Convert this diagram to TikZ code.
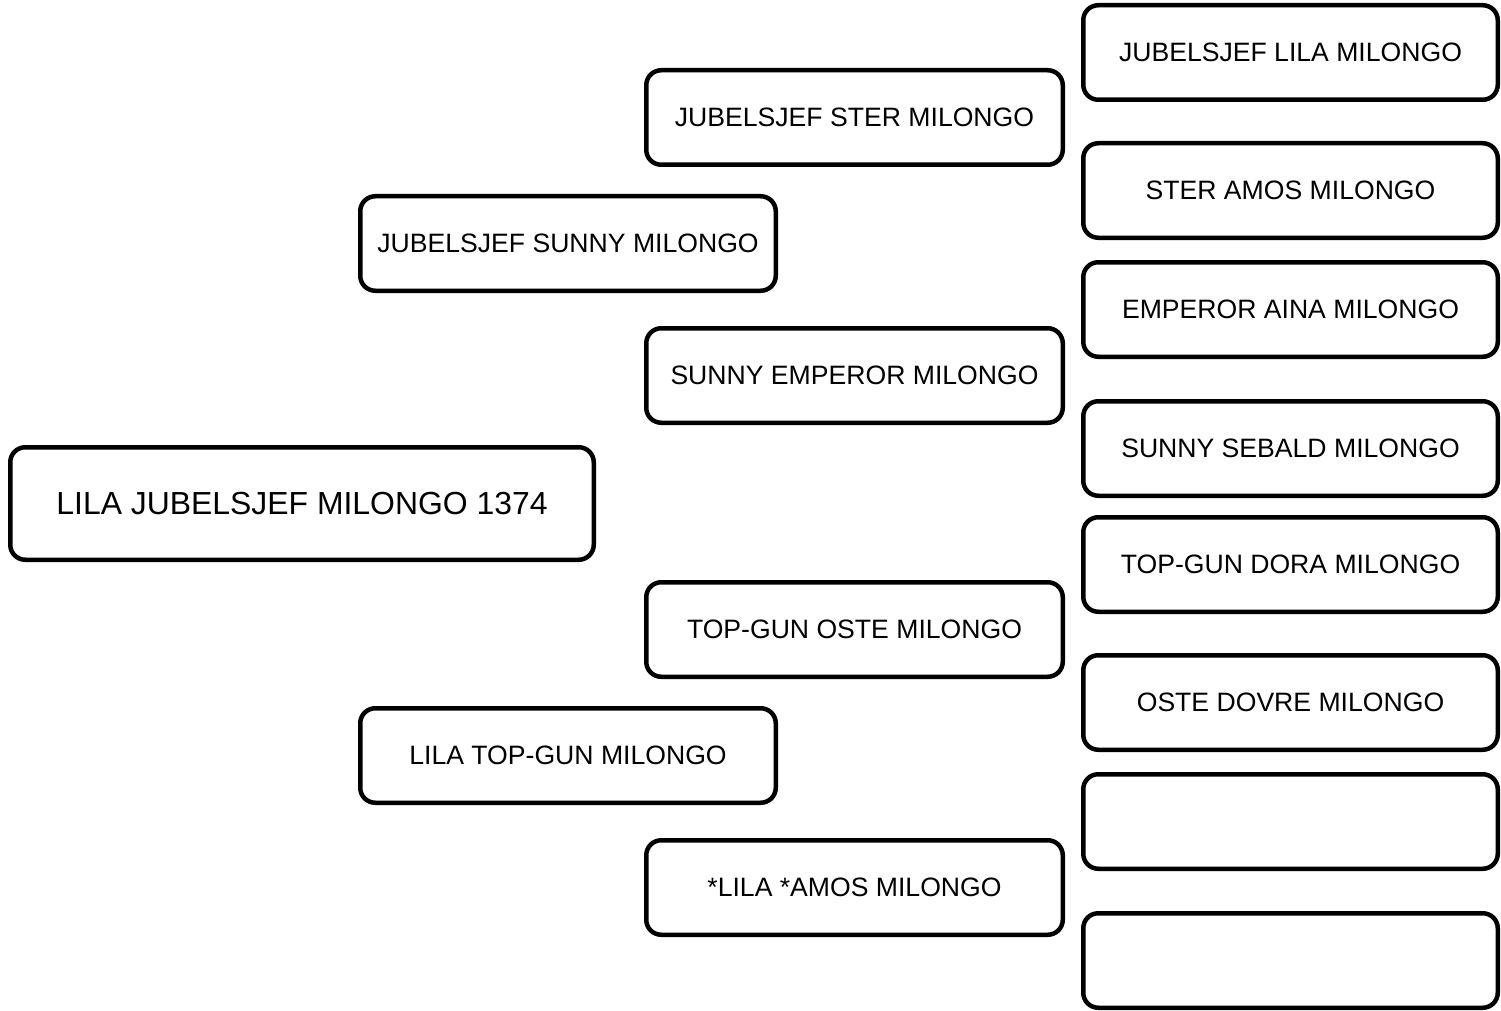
\documentclass[tikz,border=0pt]{standalone}
\usepackage{fontspec}
\setmainfont{Liberation Sans}
\begin{document}
\begin{tikzpicture}[x=1pt,y=-1pt,
  box/.style={draw=black, line width=4.5pt, rounded corners=15pt, fill=white,
    inner sep=0pt, align=center, font=\fontsize{26.6}{30}\selectfont},
  lvlthree/.style={box, minimum width=414.5pt, minimum height=94.5pt},
  lvltwo/.style={box, minimum width=416.5pt, minimum height=94.5pt},
  lvlone/.style={box, minimum width=415.5pt, minimum height=94.5pt},
  rootbox/.style={box, minimum width=583.5pt, minimum height=112.5pt, font=\fontsize{31.9}{36}\selectfont}]
\useasboundingbox (0,0) rectangle (1501,1011);
% root
\node[rootbox] (root) at (302,503.5) {LILA JUBELSJEF MILONGO 1374};
% level 1
\node[lvlone] (f) at (568,243.5) {JUBELSJEF SUNNY MILONGO};
\node[lvlone] (m) at (568,755.5) {LILA TOP-GUN MILONGO};
% level 2
\node[lvltwo] (ff) at (854.5,117.5) {JUBELSJEF STER MILONGO};
\node[lvltwo] (fm) at (854.5,375.5) {SUNNY EMPEROR MILONGO};
\node[lvltwo] (mf) at (854.5,629.5) {TOP-GUN OSTE MILONGO};
\node[lvltwo] (mm) at (854.5,887.5) {*LILA *AMOS MILONGO};
% level 3
\node[lvlthree] (fff) at (1290.5,52.5) {JUBELSJEF LILA MILONGO};
\node[lvlthree] (ffm) at (1290.5,190.5) {STER AMOS MILONGO};
\node[lvlthree] (fmf) at (1290.5,309.5) {EMPEROR AINA MILONGO};
\node[lvlthree] (fmm) at (1290.5,448.5) {SUNNY SEBALD MILONGO};
\node[lvlthree] (mff) at (1290.5,564.5) {TOP-GUN DORA MILONGO};
\node[lvlthree] (mfm) at (1290.5,702.5) {OSTE DOVRE MILONGO};
\node[lvlthree] (mmf) at (1290.5,821.5) {};
\node[lvlthree] (mmm) at (1290.5,960.5) {};
\end{tikzpicture}
\end{document}
